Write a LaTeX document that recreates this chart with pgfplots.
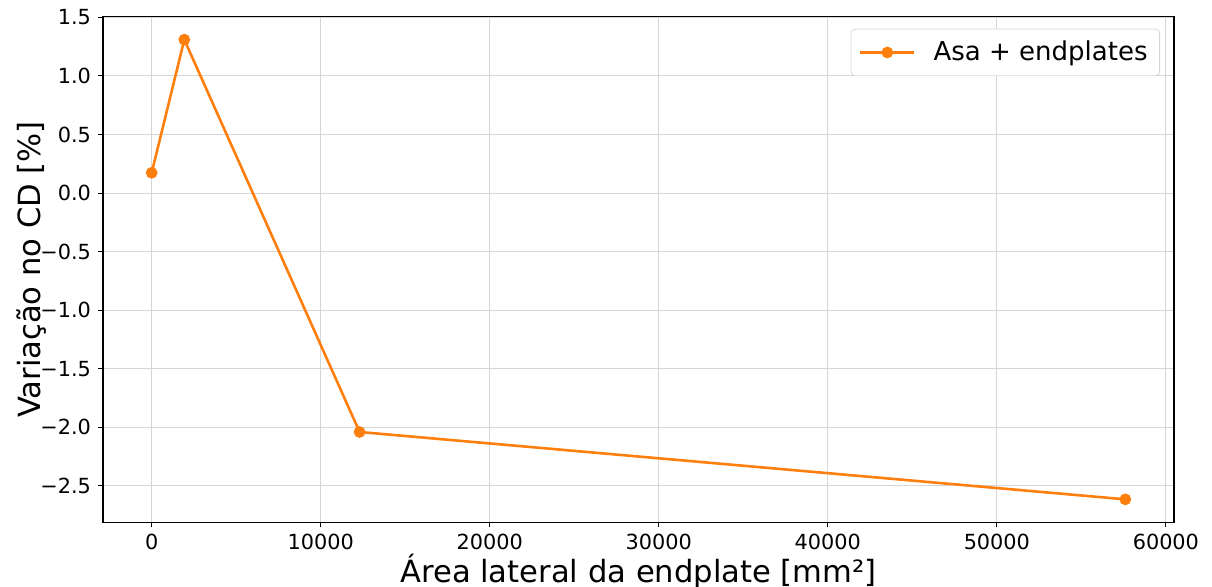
\documentclass[border=0pt]{standalone}
\usepackage{fontspec}
\setmainfont{DejaVu Sans}
\usepackage{pgfplots}
\pgfplotsset{compat=1.18}
\definecolor{mplorange}{HTML}{FF7F0E}
\definecolor{gridgray}{HTML}{D6D6D6}
\begin{document}
\begin{tikzpicture}
\begin{axis}[
  scale only axis,
  width=535.5pt, height=252.8pt,
  xmin=-2880, xmax=60480,
  ymin=-2.811, ymax=1.506,
  scaled x ticks=false, scaled y ticks=false,
  xtick={0,10000,20000,30000,40000,50000,60000},
  xticklabels={0,10000,20000,30000,40000,50000,60000},
  ytick={-2.5,-2,-1.5,-1,-0.5,0,0.5,1,1.5},
  yticklabels={−2.5,−2.0,−1.5,−1.0,−0.5,0.0,0.5,1.0,1.5},
  tick label style={font=\fontsize{10.4}{12}\selectfont},
  xtick pos=bottom, ytick pos=left,
  tick align=outside,
  major tick length=2.5pt,
  every tick/.style={black, line width=0.5pt},
  axis line style={line width=0.6pt, black},
  grid=major,
  major grid style={gridgray, line width=0.5pt},
  xlabel={Área lateral da endplate [mm²]},
  ylabel={Variação no CD [\%]},
  label style={font=\fontsize{15.3}{18}\selectfont},
  xlabel shift=-5pt, ylabel shift=-10pt,
  legend style={at={(rel axis cs:1,1)}, anchor=north east,
    xshift=-7pt, yshift=-6pt, draw=gridgray, rounded corners=2pt,
    font=\fontsize{13}{15}\selectfont, inner xsep=4pt, inner ysep=4pt},
  legend image code/.code={%
    \draw[mark repeat=2, mark phase=2] plot coordinates {(0pt,0pt) (13.5pt,0pt) (27pt,0pt)};},
]
\addplot[mplorange, line width=1.3pt, mark=*, mark size=2.25pt,
  mark options={solid, fill=mplorange, draw=mplorange}]
  coordinates {(0,0.173) (1930,1.31) (12300,-2.04) (57600,-2.615)};
\addlegendentry{\hspace{7pt}Asa + endplates}
\coordinate (SW) at (rel axis cs:0,0);
\coordinate (NE) at (rel axis cs:1,1);
\end{axis}
\pgfresetboundingbox
\path ([shift={(-51.5pt,-32.35pt)}]SW) rectangle ([shift={(19pt,8.35pt)}]NE);
\end{tikzpicture}
\end{document}
